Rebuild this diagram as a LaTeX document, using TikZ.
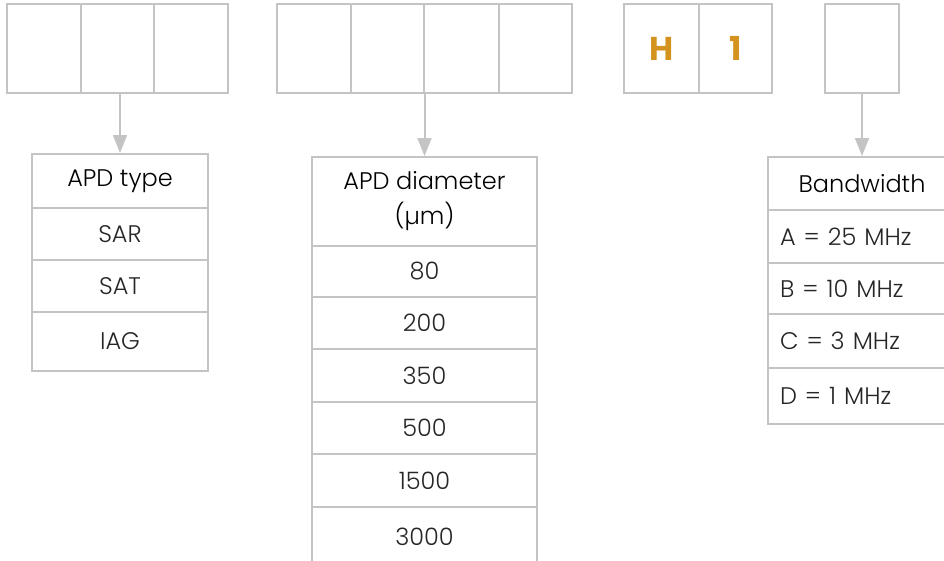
\documentclass[tikz,border=0pt]{standalone}
\usepackage{fontspec}
\setmainfont{Poppins}[UprightFont={* Light},BoldFont={* Bold}]
\usetikzlibrary{arrows.meta}
\definecolor{linegray}{HTML}{C4C4C4}
\definecolor{codeorange}{HTML}{D4921F}
\tikzset{
  cell/.style={draw=linegray,line width=2pt,minimum width=74pt,minimum height=89pt,inner sep=0pt,
    font=\fontsize{33}{33}\selectfont\bfseries,text=codeorange},
  hdr/.style={draw=linegray,line width=2pt,inner sep=0pt,font=\fontsize{24}{35}\selectfont,align=center,text=black},
  row/.style={draw=linegray,line width=2pt,inner sep=0pt,font=\fontsize{24}{28}\selectfont,text=black!85},
  conn/.style={draw=linegray,line width=2pt,-{Triangle[width=14pt,length=18pt]}}
}
\begin{document}
\begin{tikzpicture}[x=1pt,y=-1pt]
\useasboundingbox (0,0) rectangle (944,560);
\clip (0,0) rectangle (944,560);
% group 1
\node[cell] (a1) at (44,48.5) {};
\node[cell,minimum width=73pt] (a2) at (117.5,48.5) {};
\node[cell] (a3) at (191,48.5) {};
% group 2
\node[cell] (b1) at (314,48.5) {};
\node[cell,minimum width=73pt] (b2) at (387.5,48.5) {};
\node[cell,minimum width=75pt] (b3) at (461.5,48.5) {};
\node[cell,minimum width=73pt] (b4) at (535.5,48.5) {};
% group 3
\node[cell,minimum width=75pt] (h1) at (661.5,48.5) {H};
\node[cell,minimum width=73pt] (h2) at (735.5,48.5) {1};
% group 4
\node[cell] (d1) at (862,48.5) {};
% table 1
\node[hdr,minimum width=176pt,minimum height=54pt] (t1h) at (120,181) {APD type};
\node[row,minimum width=176pt,minimum height=52pt] (t1a) at (120,234) {SAR};
\node[row,minimum width=176pt,minimum height=52pt] (t1b) at (120,286) {SAT};
\node[row,minimum width=176pt,minimum height=59pt] (t1c) at (120,341.5) {IAG};
% table 2
\node[hdr,minimum width=225pt,minimum height=89pt] (t2h) at (424.5,201.5) {APD diameter\\(µm)};
\node[row,minimum width=225pt,minimum height=51pt] (t2a) at (424.5,271.5) {80};
\node[row,minimum width=225pt,minimum height=52pt] (t2b) at (424.5,323) {200};
\node[row,minimum width=225pt,minimum height=53pt] (t2c) at (424.5,375.5) {350};
\node[row,minimum width=225pt,minimum height=52pt] (t2d) at (424.5,428) {500};
\node[row,minimum width=225pt,minimum height=53pt] (t2e) at (424.5,480.5) {1500};
\node[row,minimum width=225pt,minimum height=60pt] (t2f) at (424.5,537) {3000};
% table 3
\node[hdr,minimum width=188pt,minimum height=53pt] (t3h) at (862,183.5) {Bandwidth};
\node[row,minimum width=188pt,minimum height=53pt,text width=164pt,align=left] (t3a) at (862,236.5) {A = 25 MHz};
\node[row,minimum width=188pt,minimum height=51pt,text width=164pt,align=left] (t3b) at (862,288.5) {B = 10 MHz};
\node[row,minimum width=188pt,minimum height=54pt,text width=164pt,align=left] (t3c) at (862,341) {C = 3 MHz};
\node[row,minimum width=188pt,minimum height=56pt,text width=164pt,align=left] (t3d) at (862,396) {D = 1 MHz};
% connectors
\draw[conn] (t1h.north |- a2.south) -- (t1h.north);
\draw[conn] (t2h.north |- b2.south) -- (t2h.north);
\draw[conn] (d1.south) -- (t3h.north);
\end{tikzpicture}
\end{document}
